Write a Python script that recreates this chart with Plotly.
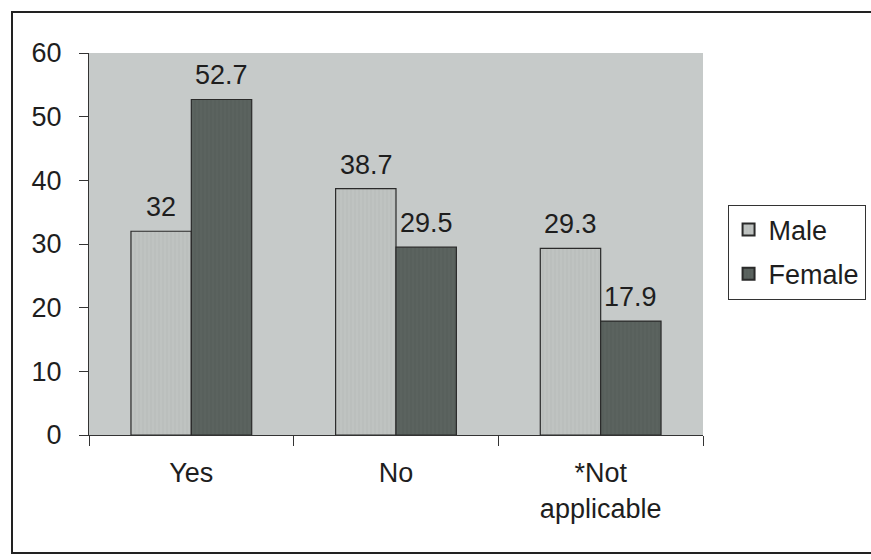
import plotly.graph_objects as go

categories = ["Yes", "No", "*Not<br>applicable"]
male = [32, 38.7, 29.3]
female = [52.7, 29.5, 17.9]
y_ticks = [0, 10, 20, 30, 40, 50, 60]

FONT = "Liberation Sans, Arial, sans-serif"
TXT = "#1e1e1e"
FS = 27

fig = go.Figure()
fig.add_trace(go.Bar(
    name="Male", x=categories, y=male, legendgroup="male",
    marker=dict(color="#bfc3c1", line=dict(color="#2a2a2a", width=1.2),
                pattern=dict(shape="|", fgcolor="#aeb2b0", size=4, solidity=0.25)),
))
fig.add_trace(go.Bar(
    name="Female", x=categories, y=female, legendgroup="female",
    marker=dict(color="#5b635f", line=dict(color="#2a2a2a", width=1.2),
                pattern=dict(shape="|", fgcolor="#4d5551", size=4, solidity=0.25)),
))

# value labels above each bar (male bars sit left of centre, female right)
annotations = []
for series, shift in ((male, -30), (female, 30)):
    for cat, v in zip(categories, series):
        annotations.append(dict(
            x=cat, y=v, xref="x", yref="y", text=f"{v:g}", showarrow=False,
            xshift=shift, yshift=7, yanchor="bottom",
            font=dict(size=FS, family=FONT, color=TXT),
        ))

fig.update_layout(
    width=871, height=560,
    margin=dict(l=89, r=168, t=53, b=125, autoexpand=False),
    paper_bgcolor="white",
    plot_bgcolor="#c6cac9",
    barmode="group",
    bargap=0.41, bargroupgap=0,
    font=dict(family=FONT, size=FS, color=TXT),
    showlegend=True,
    legend=dict(
        x=1.04, y=0.479, xanchor="left", yanchor="middle",
        bgcolor="white", bordercolor="#333", borderwidth=1,
        font=dict(size=FS, family=FONT, color=TXT),
        itemsizing="constant", tracegroupgap=6,
    ),
    xaxis=dict(
        showgrid=False, showline=True, linecolor="#333", linewidth=1,
        ticks="outside", tickson="boundaries", ticklen=10, tickcolor="#333",
        tickfont=dict(size=FS, family=FONT, color=TXT),
        ticklabelstandoff=14,
    ),
    yaxis=dict(
        range=[0, 60], tickvals=y_ticks, showgrid=False,
        showline=True, linecolor="#333", linewidth=1,
        ticks="outside", ticklen=9, tickcolor="#333",
        tickfont=dict(size=FS, family=FONT, color=TXT),
        ticklabelstandoff=12, zeroline=False,
    ),
    annotations=annotations,
    shapes=[dict(
        type="rect", xref="paper", yref="paper",
        x0=-77 / 614, x1=1.35, y0=-118 / 382, y1=1 + 41 / 382,
        line=dict(color="#222", width=2), fillcolor="rgba(0,0,0,0)", layer="below",
    )],
)

fig.write_html("out.html")
